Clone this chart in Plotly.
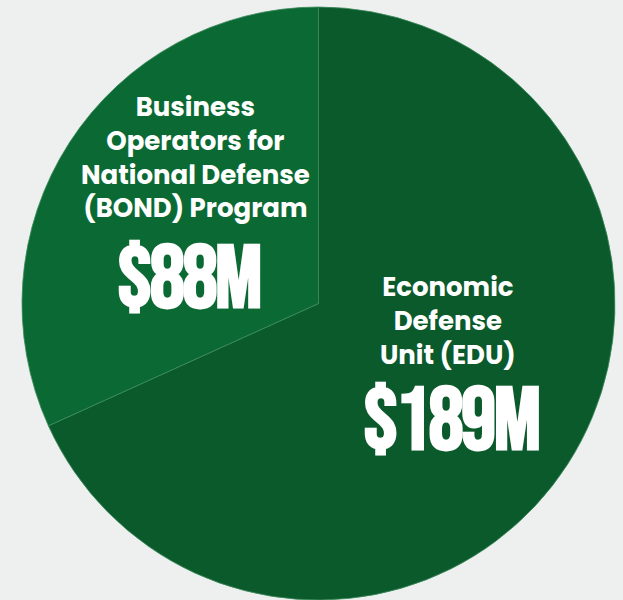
import plotly.graph_objects as go

# Data (EDU listed first so BOND sits in the upper-left wedge)
programs = ["Economic<br>Defense<br>Unit (EDU)",
            "Business<br>Operators for<br>National Defense<br>(BOND) Program"]
short_names = ["EDU", "BOND"]
amounts_musd = [189, 88]
amount_labels = ["$189M", "$88M"]
slice_colors = ["#0b5a2b", "#0b6a34"]

W, H = 623, 600

fig = go.Figure()
fig.add_trace(go.Pie(
    labels=short_names,
    values=amounts_musd,
    sort=False,
    direction="clockwise",
    rotation=0,
    textinfo="none",
    hoverinfo="label+value",
    marker=dict(colors=slice_colors, line=dict(color="#3c8a5c", width=0.8)),
    domain=dict(x=[22 / W, 615 / W], y=[0, 1 - 7 / H]),
    showlegend=False,
))

label_font = dict(family="Poppins, 'Open Sans', sans-serif", size=26, color="white")
value_font = dict(family="'Bebas Neue', Anton, Oswald, sans-serif", size=88, color="white")

# label anchor positions (pixels)
label_pos = [(448, 321), (195, 158)]
value_pos = [(451, 422), (189, 280)]

for i in range(len(programs)):
    lx, ly = label_pos[i]
    fig.add_annotation(x=lx / W, y=1 - ly / H, xref="paper", yref="paper",
                       text="<b>" + programs[i] + "</b>", showarrow=False,
                       font=label_font, align="center",
                       xanchor="center", yanchor="middle")
    vx, vy = value_pos[i]
    fig.add_annotation(x=vx / W, y=1 - vy / H, xref="paper", yref="paper",
                       text='<span style="letter-spacing:-2.5px"><b>' + amount_labels[i] + "</b></span>",
                       showarrow=False, font=value_font, align="center",
                       xanchor="center", yanchor="middle")

fig.update_layout(
    width=W, height=H,
    margin=dict(l=0, r=0, t=0, b=0),
    paper_bgcolor="#eef0ef",
    plot_bgcolor="#eef0ef",
)

fig.write_html("out.html", config={"displayModeBar": False},
               post_script="document.body.style.margin='0';")
